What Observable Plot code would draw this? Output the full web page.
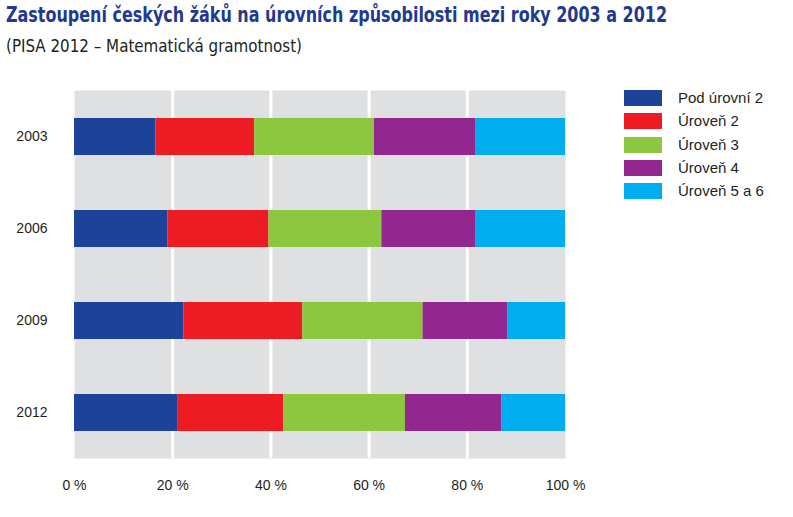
<!DOCTYPE html>
<html>
<head>
<meta charset="utf-8">
<script src="https://cdn.jsdelivr.net/npm/d3@7"></script>
<script src="https://cdn.jsdelivr.net/npm/@observablehq/plot@0.6"></script>
<style>
  body { margin: 0; background: #fff; }
  #wrap { position: relative; width: 793px; height: 517px; overflow: hidden; }
  #head { height: 60px; position: relative; }
  #title { position: absolute; left: 6px; top: 3px; font-family: "Liberation Sans Narrow", "DejaVu Sans Condensed", sans-serif; font-weight: bold; font-size: 21px; color: #213a8f; white-space: nowrap; transform-origin: 0 0; }
  #subtitle { position: absolute; left: 6px; top: 36px; font-family: "Liberation Sans Narrow", "DejaVu Sans Condensed", sans-serif; font-size: 17px; color: #231f20; white-space: nowrap; transform-origin: 0 0; }
  #legend { position: absolute; left: 624px; top: 90px; font-family: "Liberation Sans", Arial, sans-serif; font-size: 15px; color: #231f20; }
  .item { position: absolute; left: 0; height: 16px; white-space: nowrap; }
  .sw { position: absolute; left: 0; top: 0; width: 38px; height: 16px; }
  .lb { position: absolute; left: 54px; top: -1px; line-height: 18px; }
</style>
</head>
<body>
<div id="wrap">
  <div id="head">
    <div id="title">Zastoupení českých žáků na úrovních způsobilosti mezi roky 2003 a 2012</div>
    <div id="subtitle">(PISA 2012 – Matematická gramotnost)</div>
  </div>
  <div id="chart"></div>
  <div id="legend"></div>
</div>
<script>
const years = ["2003", "2006", "2009", "2012"];
const levels = ["Pod úrovní 2", "Úroveň 2", "Úroveň 3", "Úroveň 4", "Úroveň 5 a 6"];
const colors = ["#1c4397", "#ed1c24", "#8dc63f", "#92278f", "#00aeef"];
const podUrovni2 = [16.6, 19.0, 22.3, 21.0];
const uroven2 = [20.1, 20.6, 24.2, 21.6];
const uroven3 = [24.4, 23.0, 24.5, 24.8];
const uroven4 = [20.7, 19.2, 17.3, 19.6];
const uroven56 = [18.2, 18.2, 11.7, 13.0];
const xTicks = [0, 20, 40, 60, 80, 100];
const gridTicks = [20, 40, 60, 80];

const series = [podUrovni2, uroven2, uroven3, uroven4, uroven56];
const rows = [];
years.forEach((y, i) => {
  levels.forEach((l, j) => {
    rows.push({year: y, level: l, value: series[j][i]});
  });
});

const chart = Plot.plot({
  width: 793,
  height: 457,
  marginTop: 30,
  marginBottom: 59,
  marginLeft: 74,
  marginRight: 228,
  style: {fontFamily: "'Liberation Sans', Arial, sans-serif", fontSize: "14px", color: "#231f20", background: "transparent"},
  x: {domain: [0, 100], ticks: xTicks, tickFormat: d => d + " %", tickSize: 0, tickPadding: 22, label: null},
  y: {domain: years, paddingInner: 0.6, paddingOuter: 0.3, tickSize: 0, tickPadding: 27, label: null},
  color: {domain: levels, range: colors},
  marks: [
    Plot.frame({fill: "#dfe0e2", stroke: "none"}),
    Plot.ruleX(gridTicks, {stroke: "#ffffff", strokeWidth: 3}),
    Plot.barX(rows, Plot.stackX({y: "year", x: "value", fill: "level", order: levels}))
  ]
});
document.getElementById("chart").appendChild(chart);

// fit the condensed heading texts to the reference widths
function fitWidth(id, target) {
  const el = document.getElementById(id);
  const w = el.getBoundingClientRect().width;
  if (w > 0) el.style.transform = "scaleX(" + (target / w) + ")";
}
fitWidth("title", 661);
fitWidth("subtitle", 296);

const legend = document.getElementById("legend");
levels.forEach((l, i) => {
  const item = document.createElement("div");
  item.className = "item";
  item.style.top = (i * 23.3) + "px";
  const sw = document.createElement("div");
  sw.className = "sw";
  sw.style.background = colors[i];
  const lb = document.createElement("div");
  lb.className = "lb";
  lb.textContent = l;
  item.appendChild(sw);
  item.appendChild(lb);
  legend.appendChild(item);
});
</script>
</body>
</html>
